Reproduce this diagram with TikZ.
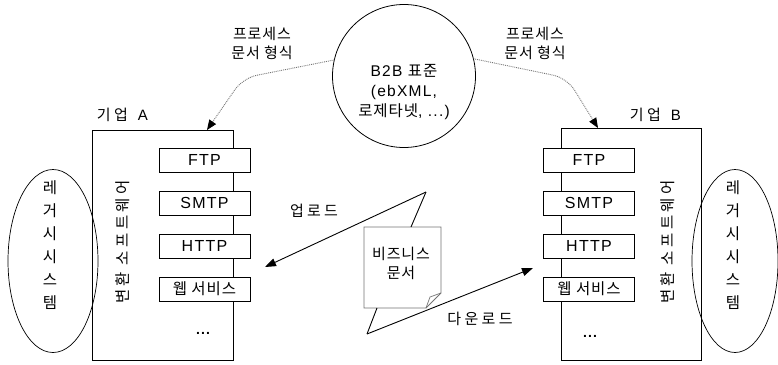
\documentclass[tikz,border=0pt]{standalone}
\usepackage{fontspec}
\setmainfont{Liberation Sans}[LetterSpace=8]
\newfontfamily\kr{Noto Sans CJK KR}[LetterSpace=6]
\newfontfamily\krw{Noto Sans CJK KR}[LetterSpace=22]
\usetikzlibrary{arrows.meta,shapes.geometric}
\newcommand\K[1]{{\kr #1}}
\begin{document}
\begin{tikzpicture}[x=1pt,y=-1pt,
  every node/.style={inner sep=0pt, outer sep=0pt, font=\fontsize{16}{19}\selectfont},
  frame/.style={draw, line width=0.8pt, anchor=north west},
  ibox/.style={draw, fill=white, line width=0.8pt, minimum width=91pt, minimum height=24pt},
  legacy/.style={ellipse, draw, line width=0.7pt},
  vert/.style={rotate=90, font=\fontsize{15.5}{18}\selectfont\krw},
  stack/.style={align=center, font=\fontsize{15.5}{23}\selectfont\kr},
  klabel/.style={align=center, font=\fontsize{15}{19}\selectfont\kr},
  wlabel/.style={font=\fontsize{15}{18}\selectfont\krw},
  darr/.style={draw=black!55, densely dotted, line width=0.9pt, rounded corners=14pt,
    -{Triangle[length=10pt,width=8pt,color=black]}},
  sarr/.style={draw, line width=0.9pt, -{Triangle[length=11pt,width=8pt]}},
  tail/.style={draw, line width=0.9pt},
  note/.style={draw=black!55, line width=0.8pt, fill=white}
]
\useasboundingbox (0,0) rectangle (778,364);

% B2B standard circle
\node[circle, draw, line width=0.8pt, minimum size=143pt] (std) at (404,76) {};
\node[align=center, font=\fontsize{15.5}{20}\selectfont] (stdtxt) at (404,92)
  {B2B \K{표준}\\(ebXML,\\\K{로제타넷}, ...)};

% process labels
\node[klabel] (pl) at (262,43) {프로세스\\문서 형식};
\node[klabel] (pr) at (535,43) {프로세스\\문서 형식};

% company A
\node[frame, minimum width=141pt, minimum height=230pt] (boxA) at (92,130) {};
\node[font=\fontsize{15}{18}\selectfont\krw] (labA) at (123,115) {기업 \textrm{A}};
\node[legacy, minimum width=90pt, minimum height=183pt] (ellA) at (53,261) {};
\node[stack] (legA) at (50,245) {레\\거\\시\\시\\스\\템};
\node[vert] (convA) at (123,242) {변환 소프트웨어};
\node[ibox] (ftpA) at (204.5,160) {FTP};
\node[ibox] (smtpA) at (204.5,203) {SMTP};
\node[ibox] (httpA) at (204.5,246) {HTTP};
\node[ibox, font=\fontsize{15.5}{18}\selectfont\kr] (wsA) at (204.5,289) {웹 서비스};
\node[font=\fontsize{14}{16}\selectfont\bfseries] (dotA) at (203,333) {...};

% company B
\node[frame, minimum width=140pt, minimum height=232pt] (boxB) at (561,128) {};
\node[font=\fontsize{15}{18}\selectfont\krw] (labB) at (656,115) {기업 \textrm{B}};
\node[legacy, minimum width=86pt, minimum height=183pt] (ellB) at (735,261) {};
\node[stack] (legB) at (733,245) {레\\거\\시\\시\\스\\템};
\node[vert] (convB) at (668,242) {변환 소프트웨어};
\node[ibox] (ftpB) at (589,160) {FTP};
\node[ibox] (smtpB) at (589,203) {SMTP};
\node[ibox] (httpB) at (589,246) {HTTP};
\node[ibox, font=\fontsize{15.5}{18}\selectfont\kr] (wsB) at (589,289) {웹 서비스};
\node[font=\fontsize{14}{16}\selectfont\bfseries] (dotB) at (590,336) {...};

% dotted arrows from the standard
\coordinate (tA) at (207,130);
\coordinate (tB) at (598,128);
\draw[darr] (std.167) -- (243,78) -- (tA);
\draw[darr] (std.14) -- (567,78) -- (tB);

% business document callout
\coordinate (apU) at (426,192);
\coordinate (apD) at (367,334);
\coordinate (upTip) at (265,267);
\coordinate (dnTip) at (533,268);
\path[note] (364,227) -- (441,227) -- (441,293) -- (426,308) -- (364,308) -- cycle;
\draw[black!55, line width=0.7pt] (441,293) -- (430,297) -- (426,308);
\node[name=doc, align=center, font=\fontsize{15}{19}\selectfont\kr] at (401,263) {비즈니스\\문서};
\draw[tail] (411,227) -- (apU);
\draw[tail] (377,308) -- (apD);
\draw[sarr] (apU) -- (upTip);
\draw[sarr] (apD) -- (dnTip);
\node[wlabel] (up) at (314,211) {업로드};
\node[wlabel] (dn) at (480,319) {다운로드};
\end{tikzpicture}
\end{document}
